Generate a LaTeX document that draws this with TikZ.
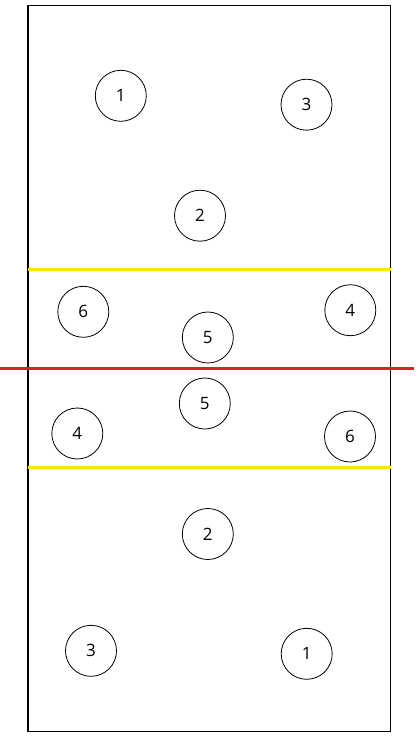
\documentclass[tikz,border=0pt]{standalone}
\usepackage{fontspec}
\setmainfont{Open Sans}
\definecolor{netred}{RGB}{222,30,40}
\definecolor{lineyellow}{RGB}{255,232,0}
\begin{document}
\begin{tikzpicture}[x=1pt,y=-1pt,
  player/.style={draw=black,line width=0.8pt,circle,minimum size=51pt,inner sep=0pt,font=\fontsize{17}{17}\selectfont}]
\useasboundingbox (0,0) rectangle (418,738);
\fill[white] (0,0) rectangle (418,738);
\draw[line width=1.5pt] (28,5.7) rectangle (390.5,731.3);
\coordinate (ytl) at (28,269.5);
\coordinate (ytr) at (390.5,269.5);
\coordinate (ybl) at (28,467.5);
\coordinate (ybr) at (390.5,467.5);
\coordinate (rl) at (0,368.7);
\coordinate (rr) at (414,368.7);
\draw[lineyellow,line width=3.5pt] (ytl) -- (ytr);
\draw[lineyellow,line width=3.5pt] (ybl) -- (ybr);
\draw[netred,line width=3.5pt] (rl) -- (rr);
\node[player] (t1) at (120.8,95.8) {1};
\node[player] (t3) at (306.5,104.7) {3};
\node[player] (t2) at (200,215.7) {2};
\node[player] (t6) at (83.3,311.8) {6};
\node[player] (t5) at (207.8,337.5) {5};
\node[player] (t4) at (350.3,310.2) {4};
\node[player] (b5) at (204.8,403.5) {5};
\node[player] (b4) at (77.3,433.5) {4};
\node[player] (b6) at (350,436.5) {6};
\node[player] (b2) at (207.8,534) {2};
\node[player] (b3) at (91,650.8) {3};
\node[player] (b1) at (306.7,653.8) {1};
\end{tikzpicture}
\end{document}
